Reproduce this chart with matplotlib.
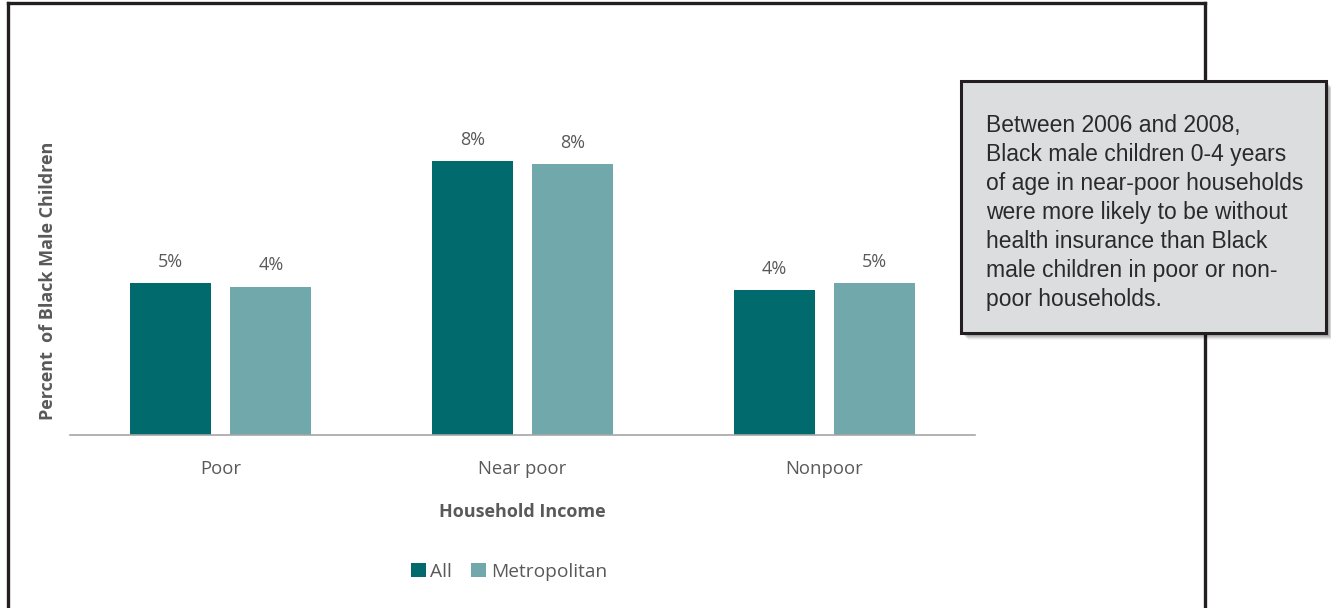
import matplotlib.pyplot as plt
import numpy as np
from matplotlib.patches import Rectangle
from matplotlib.lines import Line2D

# data
categories = ['Poor', 'Near poor', 'Nonpoor']
series_names = ['All', 'Metropolitan']
all_vals = [4.65, 8.4, 4.45]
metro_vals = [4.55, 8.3, 4.65]
all_labels = ['5%', '8%', '4%']
metro_labels = ['4%', '8%', '5%']
note = ('Between 2006 and 2008,\nBlack male children 0-4 years\nof age in near-poor households\n'
        'were more likely to be without\nhealth insurance than Black\nmale children in poor or non-\npoor households.')

W, H = 1331, 608
fig = plt.figure(figsize=(W / 100, H / 100), dpi=100)
fig.patch.set_facecolor('white')

def fx(px):
    return px / W

def fy(py):
    return 1 - py / H

# axes placed in pixel terms
ax = fig.add_axes([fx(70), fy(435), fx(975) - fx(70), fy(109) - fy(435)])
x = np.arange(len(categories))
w = 0.268
off = 0.166
c_all = '#006a6c'
c_met = '#71a8ac'
txt = '#595959'
font = 'Open Sans'

b1 = ax.bar(x - off, all_vals, w, color=c_all, label=series_names[0])
b2 = ax.bar(x + off, metro_vals, w, color=c_met, label=series_names[1])
for bars, labs in [(b1, all_labels), (b2, metro_labels)]:
    for b, l in zip(bars, labs):
        ax.text(b.get_x() + b.get_width() / 2, b.get_height() + 0.38, l, ha='center', va='bottom',
                fontsize=13, color=txt, family=font)

ax.set_xlim(-0.5, 2.5)
ax.set_ylim(0, 10)
for s in ['top', 'right', 'left']:
    ax.spines[s].set_visible(False)
ax.spines['bottom'].set_color('#a6a6a6')
ax.spines['bottom'].set_linewidth(1.2)
ax.set_yticks([])
ax.set_xticks(x)
ax.set_xticklabels(categories, fontsize=13.3, color=txt, family=font)
ax.tick_params(axis='x', length=0, pad=18)
ax.set_facecolor('none')

fig.text(fx(522), fy(512), 'Household Income', ha='center', va='center', fontsize=13,
         fontweight='bold', color=txt, family=font)
fig.text(fx(48), fy(281), 'Percent  of Black Male Children', ha='center', va='center', rotation=90,
         fontsize=13, fontweight='bold', color=txt, family=font)

leg = fig.legend(handles=[b1, b2], loc='center', bbox_to_anchor=(fx(509), fy(572)), ncol=2, frameon=False,
                 prop={'family': font, 'size': 13.8}, handlelength=0.75, handleheight=0.75,
                 handletextpad=0.25, columnspacing=1.0)
for t in leg.get_texts():
    t.set_color(txt)

# outer frame (open at the bottom)
lw = 2.4
fig.add_artist(Line2D([fx(8), fx(8)], [0, fy(3)], color='#231f20', lw=lw))
fig.add_artist(Line2D([fx(8), fx(1205)], [fy(3), fy(3)], color='#231f20', lw=lw))
fig.add_artist(Line2D([fx(1205), fx(1205)], [fy(3), 0], color='#231f20', lw=lw, zorder=1))

# note box with soft shadow
bx0, by0, bx1, by1 = 961, 81, 1326, 333
for i, a in enumerate([0.10, 0.10, 0.09, 0.08, 0.06, 0.04]):
    d = 2 + i
    fig.add_artist(Rectangle((fx(bx0 + d), fy(by1 + d)), fx(bx1 - bx0), fy(by0) - fy(by1),
                             facecolor='black', edgecolor='none', alpha=a, zorder=2))
fig.add_artist(Rectangle((fx(bx0), fy(by1)), fx(bx1 - bx0), fy(by0) - fy(by1),
                         facecolor='#dcdddf', edgecolor='#231f20', lw=2.2, zorder=3))
fig.text(fx(986), fy(114), note, ha='left', va='top', fontsize=16.5, color='#2a2a2a',
         family='Liberation Sans', linespacing=1.335, zorder=4)

fig.savefig('out.png', dpi=100)
